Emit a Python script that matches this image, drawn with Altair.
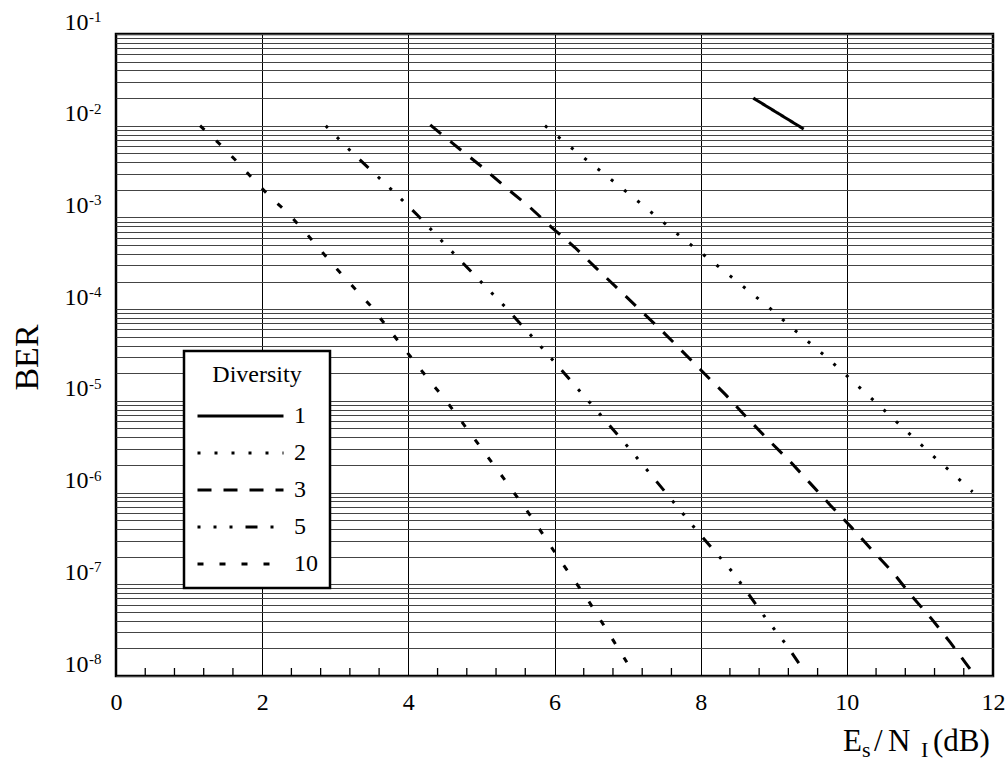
import altair as alt
import pandas as pd

# ---------------- data ----------------
div_labels = ["1", "2", "3", "5", "10"]

x_d1 = [8.72, 9.05, 9.41]
ber_d1 = [2.0e-2, 1.38e-2, 9.2e-3]

x_d2 = [5.87, 6.26, 6.64, 7.03, 7.41, 7.79, 8.18, 8.57, 8.95, 9.32, 9.70,
        10.06, 10.43, 10.79, 11.16, 11.53, 11.72]
ber_d2 = [1.0e-2, 5.5e-3, 3.16e-3, 1.78e-3, 1.0e-3, 5.6e-4, 3.2e-4, 1.8e-4,
          1.02e-4, 5.6e-5, 3.1e-5, 1.7e-5, 9.1e-6, 4.9e-6, 2.6e-6, 1.41e-6, 1.02e-6]

x_d3 = [4.30, 4.71, 5.02, 5.34, 5.65, 5.96, 6.28, 6.57, 6.87, 7.17, 7.47, 7.76,
        8.06, 8.34, 8.63, 8.92, 9.21, 9.50, 9.78, 10.06, 10.35, 10.63, 10.89,
        11.16, 11.42, 11.70]
ber_d3 = [1.02e-2, 5.5e-3, 3.5e-3, 2.1e-3, 1.32e-3, 7.8e-4, 4.7e-4, 2.8e-4,
          1.66e-4, 9.8e-5, 5.8e-5, 3.4e-5, 1.95e-5, 1.17e-5, 6.6e-6, 3.8e-6,
          2.24e-6, 1.26e-6, 7.2e-7, 4.2e-7, 2.34e-7, 1.35e-7, 7.4e-8, 4.2e-8,
          2.3e-8, 1.15e-8]

x_d5 = [2.87, 3.22, 3.73, 4.13, 4.51, 4.98, 5.32, 5.78, 5.99, 6.53, 6.97, 7.50,
        7.93, 8.46, 8.86, 9.17, 9.36]
ber_d5 = [1.0e-2, 5.2e-3, 2.16e-3, 1.05e-3, 5.0e-4, 2.04e-4, 1.07e-4, 4.2e-5,
          2.7e-5, 8.7e-6, 3.4e-6, 1.05e-6, 4.0e-7, 1.29e-7, 4.6e-8, 2.2e-8, 1.32e-8]

x_d10 = [1.15, 1.42, 1.65, 1.88, 2.12, 2.35, 2.59, 2.81, 3.02, 3.47, 3.88, 4.29,
         4.51, 4.91, 5.31, 5.70, 6.07, 6.45, 6.81, 6.99]
ber_d10 = [1.0e-2, 6.3e-3, 4.1e-3, 2.6e-3, 1.64e-3, 1.12e-3, 6.9e-4, 4.3e-4,
           2.75e-4, 1.12e-4, 4.3e-5, 1.66e-5, 1.02e-5, 3.8e-6, 1.41e-6, 5.2e-7,
           1.86e-7, 6.9e-8, 2.4e-8, 1.41e-8]

x_ticks = [0, 2, 4, 6, 8, 10, 12]
x_minor = [0.4, 0.8, 1.2, 1.6, 2.4, 2.8, 3.2, 3.6, 4.4, 4.8, 5.2, 5.6,
           6.4, 6.8, 7.2, 7.6, 8.4, 8.8, 9.2, 9.6, 10.4, 10.8, 11.2, 11.6]
decades = [1e-1, 1e-2, 1e-3, 1e-4, 1e-5, 1e-6, 1e-7, 1e-8]
decade_sup = ["-1", "-2", "-3", "-4", "-5", "-6", "-7", "-8"]
y_grid = [m * 10.0 ** e for e in range(-8, -1) for m in range(1, 10)] + [1e-1]

dash_patterns = [[1, 0], [3, 14], [14, 12], [3, 13, 3, 13, 3, 13, 12, 13], [6, 16]]

# ---------------- build table ----------------
rows = []
for lab, xs_, ys_ in [("1", x_d1, ber_d1), ("2", x_d2, ber_d2), ("3", x_d3, ber_d3),
                      ("5", x_d5, ber_d5), ("10", x_d10, ber_d10)]:
    for xv, yv in zip(xs_, ys_):
        rows.append({"div": lab, "x": xv, "ber": yv})
df = pd.DataFrame(rows)

FONT = "Liberation Serif"
xscale = alt.Scale(domain=[0, 12], nice=False, zero=False)
yscale = alt.Scale(type="log", domain=[1e-8, 1e-1], nice=False)

decade_expr = ("abs(log(datum.value)/LN10 - round(log(datum.value)/LN10)) < 0.001 ? '10' : ''")

x_axis = alt.Axis(values=x_ticks, grid=True, gridColor="black", gridWidth=1,
                  ticks=False, tickSize=0, domain=False, labelFont=FONT,
                  labelFontSize=24, labelColor="black", labelPadding=26,
                  labelBaseline="middle", labelFlush=False, title=None)
y_axis = alt.Axis(values=y_grid, grid=True, gridColor="#444", gridWidth=1,
                  ticks=False, tickSize=0, domain=False, labelExpr=decade_expr,
                  labelFont=FONT, labelFontSize=24, labelColor="black",
                  labelPadding=28, labelOffset=-12, labelBaseline="middle",
                  labelOverlap=False, title="BER", titleFont=FONT,
                  titleFontSize=34, titleFontWeight="normal", titleColor="black",
                  titleX=-89, titleY=323, titleAngle=270, titleAlign="center",
                  titleBaseline="middle")

lines = alt.Chart(df).mark_line(color="black", strokeWidth=3, clip=True).encode(
    x=alt.X("x:Q", scale=xscale, axis=x_axis),
    y=alt.Y("ber:Q", scale=yscale, axis=y_axis),
    strokeDash=alt.StrokeDash(
        "div:N", scale=alt.Scale(domain=div_labels, range=dash_patterns),
        legend=alt.Legend(title="Diversity", orient="none", legendX=68, legendY=317,
                          titleFont=FONT, titleFontSize=24, titleFontWeight="normal",
                          titleColor="black", titleAnchor="middle", titlePadding=17,
                          labelFont=FONT, labelFontSize=24, labelColor="black",
                          labelOffset=9, symbolType="stroke", symbolSize=7396,
                          symbolStrokeWidth=3, symbolStrokeColor="black",
                          clipHeight=24, rowPadding=13, padding=12,
                          strokeColor="black", fillColor="white")),
    detail="div:N",
    order="x:Q",
)

minor = alt.Chart(pd.DataFrame({"x": x_minor})).mark_rule(color="black", strokeWidth=1.3).encode(
    x=alt.X("x:Q", scale=xscale, axis=x_axis),
    y=alt.value(634), y2=alt.value(642),
)

sup = alt.Chart(pd.DataFrame({"ber": decades, "s": decade_sup})).mark_text(
    font=FONT, fontSize=15, align="left", baseline="middle", dy=-17, color="black"
).encode(
    y=alt.Y("ber:Q", scale=yscale, axis=y_axis),
    x=alt.value(-27),
    text="s:N",
)

def piece(txt, px, py, size):
    return alt.Chart(pd.DataFrame({"t": [txt]})).mark_text(
        font=FONT, fontSize=size, align="left", baseline="alphabetic", color="black"
    ).encode(text="t:N", x=alt.value(px), y=alt.value(py))

title_parts = [
    piece("E", 727, 717, 31),
    piece("s", 746, 723, 22),
    piece("/", 758, 717, 31),
    piece("N", 772, 717, 31),
    piece("I", 805, 723, 22),
    piece("(dB)", 817, 717, 31),
]

chart = alt.layer(lines, minor, sup, *title_parts).properties(
    width=877, height=642,
    autosize=alt.AutoSizeParams(type="none"),
    padding={"left": 116, "top": 34, "right": 12, "bottom": 87},
    background="white",
).configure(font=FONT).configure_view(stroke="black", strokeWidth=2.5).configure_legend(strokeWidth=2.5)

chart.save("out.html", embed_options={"renderer": "svg", "actions": False})
